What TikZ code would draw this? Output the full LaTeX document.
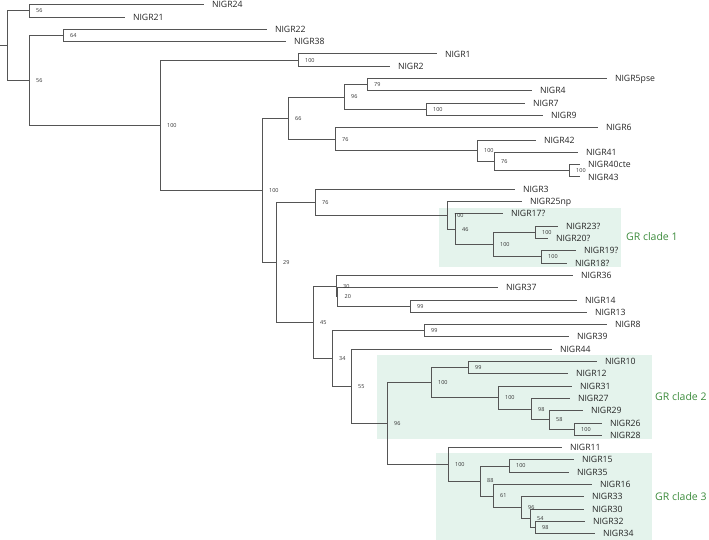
\documentclass[tikz,border=0pt]{standalone}
\usepackage{fontspec}
\setmainfont{Open Sans}
\definecolor{cladefill}{HTML}{E4F3EC}
\definecolor{cladetext}{HTML}{3D8C3D}
\definecolor{treeline}{HTML}{555555}
\begin{document}
\begin{tikzpicture}[x=1pt,y=-1pt]
    % Define styles
    \tikzstyle{branch}=[draw=treeline,line width=0.8pt]
    \tikzstyle{leaf}=[anchor=west,inner xsep=8pt,inner ysep=0pt,outer sep=0pt,text height=6.3pt,text depth=0pt,font=\fontsize{8.7}{9}\selectfont,text=black!85]
    \tikzstyle{boot}=[anchor=west,inner sep=0pt,xshift=7pt,font=\fontsize{5.5}{6}\selectfont,text=black!80]
    \tikzstyle{cladebox}=[fill=cladefill,draw=none]
    \tikzstyle{cladename}=[anchor=west,inner sep=0pt,font=\fontsize{10.5}{12}\selectfont,text=cladetext]
    \useasboundingbox (0,0) rectangle (709,540);

    % Draw the clade boxes
    \path[cladebox] (439,208) rectangle (621,267);
    \path[cladebox] (377,355) rectangle (652,439);
    \path[cladebox] (436,453) rectangle (652,540);
    \node[cladename] (c1) at (626,237) {GR clade 1};
    \node[cladename] (c2) at (655,397) {GR clade 2};
    \node[cladename] (c3) at (655,497) {GR clade 3};

    % Draw the leaves
    \node[leaf] (n24) at (204,4.7) {NIGR24};
    \node[leaf] (n21) at (125,17.0) {NIGR21};
    \node[leaf] (n22) at (267,29.3) {NIGR22};
    \node[leaf] (n38) at (286,41.6) {NIGR38};
    \node[leaf] (n1) at (437,53.9) {NIGR1};
    \node[leaf] (n2) at (390,66.2) {NIGR2};
    \node[leaf] (n5) at (607,78.5) {NIGR5pse};
    \node[leaf] (n4) at (532,90.8) {NIGR4};
    \node[leaf] (n7) at (525,103.1) {NIGR7};
    \node[leaf] (n9) at (543,115.4) {NIGR9};
    \node[leaf] (n6) at (598,127.7) {NIGR6};
    \node[leaf] (n42) at (536,140.0) {NIGR42};
    \node[leaf] (n41) at (578,152.3) {NIGR41};
    \node[leaf] (n40) at (580,164.6) {NIGR40cte};
    \node[leaf] (n43) at (580,176.9) {NIGR43};
    \node[leaf] (n3) at (515,189.2) {NIGR3};
    \node[leaf] (n25) at (522,201.5) {NIGR25np};
    \node[leaf] (n17) at (503,213.8) {NIGR17?};
    \node[leaf] (n23) at (558,226.1) {NIGR23?};
    \node[leaf] (n20) at (548,238.4) {NIGR20?};
    \node[leaf] (n19) at (576,250.7) {NIGR19?};
    \node[leaf] (n18) at (567,263.0) {NIGR18?};
    \node[leaf] (n36) at (573,275.3) {NIGR36};
    \node[leaf] (n37) at (498,287.6) {NIGR37};
    \node[leaf] (n14) at (577,299.9) {NIGR14};
    \node[leaf] (n13) at (587,312.2) {NIGR13};
    \node[leaf] (n8) at (607,324.5) {NIGR8};
    \node[leaf] (n39) at (569,336.8) {NIGR39};
    \node[leaf] (n44) at (552,349.1) {NIGR44};
    \node[leaf] (n10) at (597,361.4) {NIGR10};
    \node[leaf] (n12) at (568,373.7) {NIGR12};
    \node[leaf] (n31) at (572,386.0) {NIGR31};
    \node[leaf] (n27) at (570,398.3) {NIGR27};
    \node[leaf] (n29) at (583,410.6) {NIGR29};
    \node[leaf] (n26) at (602,422.9) {NIGR26};
    \node[leaf] (n28) at (602,435.2) {NIGR28};
    \node[leaf] (n11) at (562,447.5) {NIGR11};
    \node[leaf] (n15) at (574,459.8) {NIGR15};
    \node[leaf] (n35) at (569,472.1) {NIGR35};
    \node[leaf] (n16) at (592,484.4) {NIGR16};
    \node[leaf] (n33) at (584,496.7) {NIGR33};
    \node[leaf] (n30) at (584,509.0) {NIGR30};
    \node[leaf] (n32) at (585,521.3) {NIGR32};
    \node[leaf] (n34) at (595,533.6) {NIGR34};

    % Draw the inner nodes
    \coordinate (base) at (0,45.6);
    \coordinate (root) at (7,45.6);
    \coordinate (a) at (29,10.85);
    \coordinate (b) at (29,80.3);
    \coordinate (c) at (63,35.45);
    \coordinate (d) at (160,125.1);
    \coordinate (e) at (298,60.05);
    \coordinate (f) at (262,190.18);
    \coordinate (g) at (288,118.09);
    \coordinate (i) at (344,96.95);
    \coordinate (j) at (367,84.65);
    \coordinate (k) at (426,109.25);
    \coordinate (l) at (335,139.23);
    \coordinate (m) at (477,150.76);
    \coordinate (nn) at (494,161.53);
    \coordinate (o) at (569,170.75);
    \coordinate (h) at (276,262.26);
    \coordinate (p) at (315,202.27);
    \coordinate (r) at (447,215.34);
    \coordinate (s) at (455,229.18);
    \coordinate (t) at (493,244.55);
    \coordinate (u) at (535,232.25);
    \coordinate (v) at (541,256.85);
    \coordinate (q) at (313,322.25);
    \coordinate (w1) at (336,286.06);
    \coordinate (w2) at (337.5,296.83);
    \coordinate (y) at (410,306.05);
    \coordinate (x) at (332,358.45);
    \coordinate (z) at (424,330.65);
    \coordinate (aa) at (351,386.24);
    \coordinate (bb) at (387,423.38);
    \coordinate (cc) at (431,382.54);
    \coordinate (ee) at (468,367.55);
    \coordinate (ff) at (498,397.53);
    \coordinate (gg) at (531,409.06);
    \coordinate (hh) at (549,419.83);
    \coordinate (ii) at (574,429.05);
    \coordinate (dd) at (448,464.22);
    \coordinate (jj) at (480,480.94);
    \coordinate (kk) at (509,465.95);
    \coordinate (ll) at (493,495.93);
    \coordinate (mm) at (521,507.46);
    \coordinate (nnn) at (530,518.23);
    \coordinate (oo) at (535,527.45);

    % Draw the edges
    \draw[branch] (base) -- (root);
    \draw[branch] (root) |- (a);
    \draw[branch] (root) |- (b);
    \draw[branch] (a) |- (n24.west);
    \draw[branch] (a) |- (n21.west);
    \draw[branch] (b) |- (c);
    \draw[branch] (b) |- (d);
    \draw[branch] (c) |- (n22.west);
    \draw[branch] (c) |- (n38.west);
    \draw[branch] (d) |- (e);
    \draw[branch] (d) |- (f);
    \draw[branch] (e) |- (n1.west);
    \draw[branch] (e) |- (n2.west);
    \draw[branch] (f) |- (g);
    \draw[branch] (f) |- (h);
    \draw[branch] (g) |- (i);
    \draw[branch] (g) |- (l);
    \draw[branch] (i) |- (j);
    \draw[branch] (i) |- (k);
    \draw[branch] (j) |- (n5.west);
    \draw[branch] (j) |- (n4.west);
    \draw[branch] (k) |- (n7.west);
    \draw[branch] (k) |- (n9.west);
    \draw[branch] (l) |- (n6.west);
    \draw[branch] (l) |- (m);
    \draw[branch] (m) |- (n42.west);
    \draw[branch] (m) |- (nn);
    \draw[branch] (nn) |- (n41.west);
    \draw[branch] (nn) |- (o);
    \draw[branch] (o) |- (n40.west);
    \draw[branch] (o) |- (n43.west);
    \draw[branch] (h) |- (p);
    \draw[branch] (h) |- (q);
    \draw[branch] (p) |- (n3.west);
    \draw[branch] (p) |- (r);
    \draw[branch] (r) |- (n25.west);
    \draw[branch] (r) |- (s);
    \draw[branch] (s) |- (n17.west);
    \draw[branch] (s) |- (t);
    \draw[branch] (t) |- (u);
    \draw[branch] (t) |- (v);
    \draw[branch] (u) |- (n23.west);
    \draw[branch] (u) |- (n20.west);
    \draw[branch] (v) |- (n19.west);
    \draw[branch] (v) |- (n18.west);
    \draw[branch] (q) |- (w1);
    \draw[branch] (q) |- (x);
    \draw[branch] (w1) |- (n36.west);
    \draw[branch] (w1) |- (w2);
    \draw[branch] (w2) |- (n37.west);
    \draw[branch] (w2) |- (y);
    \draw[branch] (y) |- (n14.west);
    \draw[branch] (y) |- (n13.west);
    \draw[branch] (x) |- (z);
    \draw[branch] (x) |- (aa);
    \draw[branch] (z) |- (n8.west);
    \draw[branch] (z) |- (n39.west);
    \draw[branch] (aa) |- (n44.west);
    \draw[branch] (aa) |- (bb);
    \draw[branch] (bb) |- (cc);
    \draw[branch] (bb) |- (dd);
    \draw[branch] (cc) |- (ee);
    \draw[branch] (cc) |- (ff);
    \draw[branch] (ee) |- (n10.west);
    \draw[branch] (ee) |- (n12.west);
    \draw[branch] (ff) |- (n31.west);
    \draw[branch] (ff) |- (gg);
    \draw[branch] (gg) |- (n27.west);
    \draw[branch] (gg) |- (hh);
    \draw[branch] (hh) |- (n29.west);
    \draw[branch] (hh) |- (ii);
    \draw[branch] (ii) |- (n26.west);
    \draw[branch] (ii) |- (n28.west);
    \draw[branch] (dd) |- (n11.west);
    \draw[branch] (dd) |- (jj);
    \draw[branch] (jj) |- (kk);
    \draw[branch] (jj) |- (ll);
    \draw[branch] (kk) |- (n15.west);
    \draw[branch] (kk) |- (n35.west);
    \draw[branch] (ll) |- (n16.west);
    \draw[branch] (ll) |- (mm);
    \draw[branch] (mm) |- (n33.west);
    \draw[branch] (mm) |- (nnn);
    \draw[branch] (nnn) |- (n30.west);
    \draw[branch] (nnn) |- (oo);
    \draw[branch] (oo) |- (n32.west);
    \draw[branch] (oo) |- (n34.west);

    % Add bootstrap values
    \node[boot] (ba) at (a) {56};
    \node[boot] (bb') at (b) {56};
    \node[boot] (bc) at (c) {64};
    \node[boot] (bd) at (d) {100};
    \node[boot] (be) at (e) {100};
    \node[boot] (bf) at (f) {100};
    \node[boot] (bg) at (g) {66};
    \node[boot] (bi) at (i) {96};
    \node[boot] (bj) at (j) {79};
    \node[boot] (bk) at (k) {100};
    \node[boot] (bl) at (l) {76};
    \node[boot] (bm) at (m) {100};
    \node[boot] (bn) at (nn) {76};
    \node[boot] (bo) at (o) {100};
    \node[boot] (bh) at (h) {29};
    \node[boot] (bp) at (p) {76};
    \node[boot] (br) at (r) {100};
    \node[boot] (bs) at (s) {46};
    \node[boot] (bt) at (t) {100};
    \node[boot] (bu) at (u) {100};
    \node[boot] (bv) at (v) {100};
    \node[boot] (bq) at (q) {45};
    \node[boot] (bw1) at (w1) {30};
    \node[boot] (bw2) at (w2) {20};
    \node[boot] (by) at (y) {99};
    \node[boot] (bx) at (x) {34};
    \node[boot] (bz) at (z) {99};
    \node[boot] (baa) at (aa) {55};
    \node[boot] (bbb) at (bb) {96};
    \node[boot] (bcc) at (cc) {100};
    \node[boot] (bee) at (ee) {99};
    \node[boot] (bff) at (ff) {100};
    \node[boot] (bgg) at (gg) {98};
    \node[boot] (bhh) at (hh) {58};
    \node[boot] (bii) at (ii) {100};
    \node[boot] (bdd) at (dd) {100};
    \node[boot] (bjj) at (jj) {88};
    \node[boot] (bkk) at (kk) {100};
    \node[boot] (bll) at (ll) {61};
    \node[boot] (bmm) at (mm) {96};
    \node[boot] (bnnn) at (nnn) {54};
    \node[boot] (boo) at (oo) {98};
\end{tikzpicture}
\end{document}
